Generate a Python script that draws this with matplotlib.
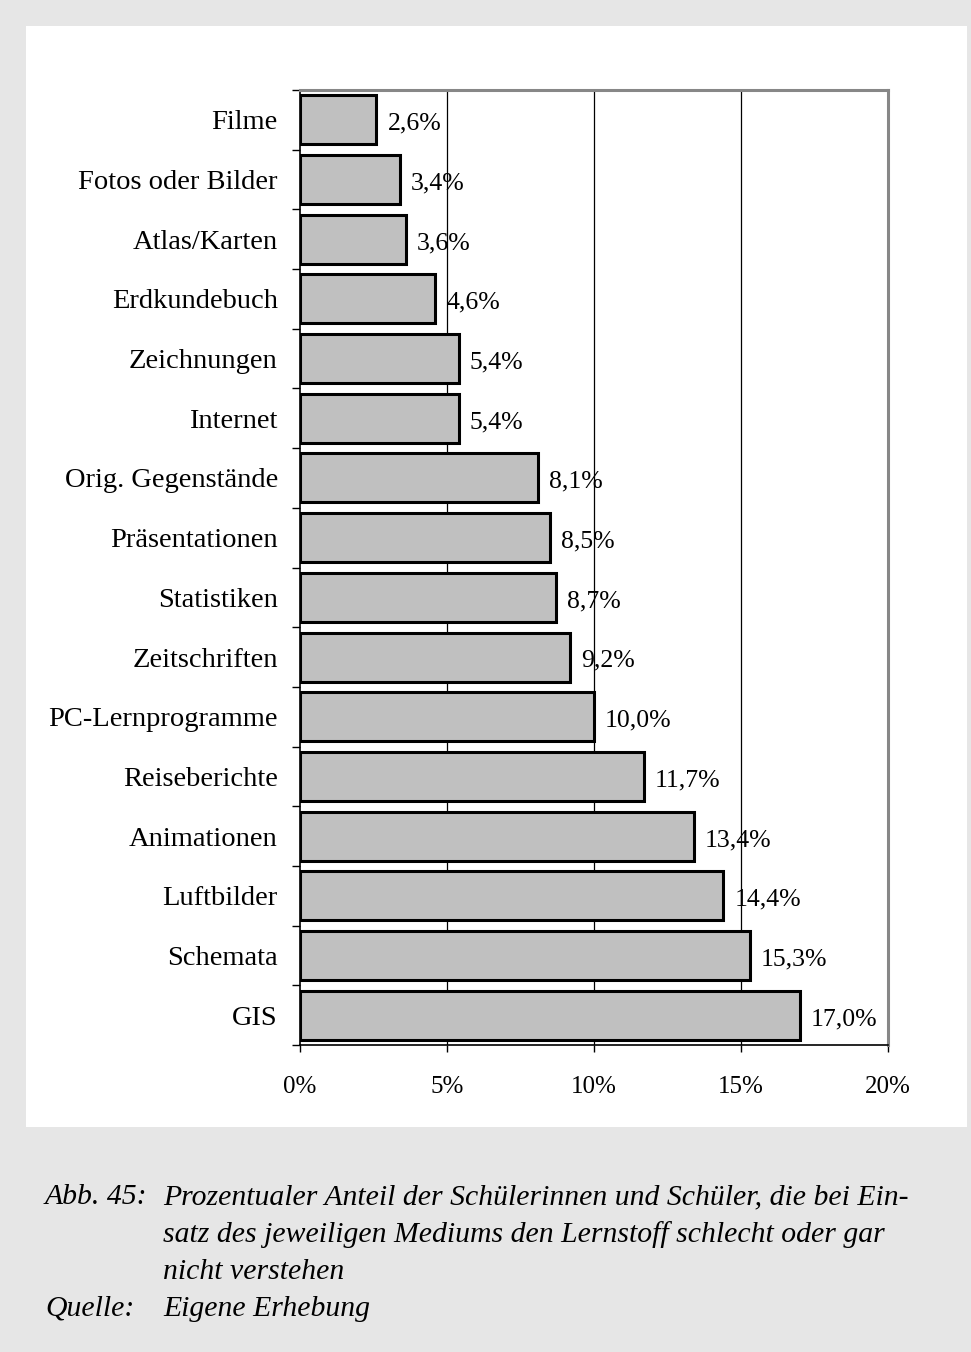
import matplotlib
matplotlib.use("Agg")
import matplotlib.pyplot as plt
from matplotlib.patches import Rectangle
from matplotlib.ticker import FixedLocator

plt.rcParams["font.family"] = ["Liberation Serif", "DejaVu Serif"]

# --- data ---
categories = ["Filme", "Fotos oder Bilder", "Atlas/Karten", "Erdkundebuch",
              "Zeichnungen", "Internet", "Orig. Gegenstände", "Präsentationen",
              "Statistiken", "Zeitschriften", "PC-Lernprogramme", "Reiseberichte",
              "Animationen", "Luftbilder", "Schemata", "GIS"]
values = [2.6, 3.4, 3.6, 4.6, 5.4, 5.4, 8.1, 8.5, 8.7, 9.2, 10.0, 11.7,
          13.4, 14.4, 15.3, 17.0]
xticks = [0, 5, 10, 15, 20]

W, H = 971, 1352
fig = plt.figure(figsize=(W / 100, H / 100), dpi=100)
fig.patch.set_facecolor("#e6e6e6")

# white panel behind the chart
fig.patches.append(Rectangle((26 / W, 1 - 1127 / H), (967 - 26) / W, (1127 - 26) / H,
                             transform=fig.transFigure, facecolor="white",
                             edgecolor="none", zorder=-5))

ax = fig.add_axes([300 / W, 1 - 1045 / H, (888 - 300) / W, (1045 - 90) / H])
ax.set_zorder(2)
ax.set_facecolor("white")

n = len(categories)
pos = list(range(n))
ax.barh(pos, values, height=0.82, color="#c0c0c0", edgecolor="black",
        linewidth=2.2, zorder=3)

for y, v in zip(pos, values):
    ax.annotate(f"{v:.1f}%".replace(".", ","), xy=(v, y), xytext=(8, -1),
                textcoords="offset points", va="center_baseline", ha="left",
                fontsize=18.5, zorder=4)

ax.set_xlim(0, 20)
ax.set_ylim(n - 0.5, -0.5)

# category labels on minor ticks, tick marks on boundaries
ax.yaxis.set_major_locator(FixedLocator([i - 0.5 for i in range(n + 1)]))
ax.yaxis.set_major_formatter(plt.NullFormatter())
ax.yaxis.set_minor_locator(FixedLocator(pos))
ax.set_yticklabels(categories, minor=True, va="center_baseline")
ax.tick_params(axis="y", which="major", direction="out", length=6, width=1)
ax.tick_params(axis="y", which="minor", length=0, pad=16, labelsize=20.5)

ax.set_xticks(xticks)
ax.set_xticklabels([f"{t}%" for t in xticks])
ax.tick_params(axis="x", direction="out", length=5, width=1, pad=17, labelsize=18)

for t in xticks[1:-1]:
    ax.axvline(t, color="black", linewidth=0.9, zorder=1)

for s in ["left", "bottom"]:
    ax.spines[s].set_color("black")
    ax.spines[s].set_linewidth(1.2)
for s in ["top", "right"]:
    ax.spines[s].set_color("#878787")
    ax.spines[s].set_linewidth(2.2)

# caption
cap_kw = dict(fontsize=21.4, style="italic", va="center", ha="left",
              transform=fig.transFigure)
fig.text(45 / W, 1 - 1197 / H, "Abb. 45:", **cap_kw)
fig.text(163 / W, 1 - 1197 / H,
         "Prozentualer Anteil der Schülerinnen und Schüler, die bei Ein-", **cap_kw)
fig.text(163 / W, 1 - 1235 / H,
         "satz des jeweiligen Mediums den Lernstoff schlecht oder gar", **cap_kw)
fig.text(163 / W, 1 - 1272 / H, "nicht verstehen", **cap_kw)
fig.text(45 / W, 1 - 1309 / H, "Quelle:", **cap_kw)
fig.text(163 / W, 1 - 1309 / H, "Eigene Erhebung", **cap_kw)

fig.savefig("out.png", dpi=100, facecolor=fig.get_facecolor())
